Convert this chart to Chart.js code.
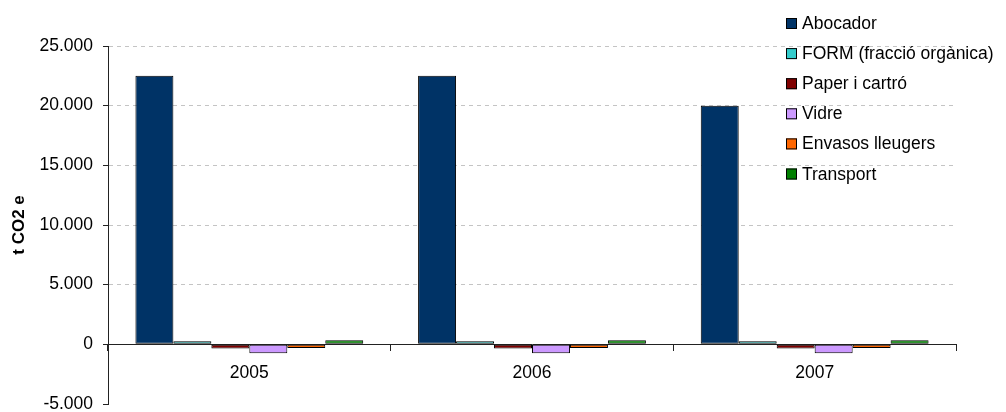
<!DOCTYPE html>
<html>
<head>
<meta charset="utf-8">
<script src="https://cdn.jsdelivr.net/npm/chart.js@4.4.1/dist/chart.umd.min.js"></script>
<style>
  html, body { margin: 0; padding: 0; background: #fff; }
  #wrap { position: relative; width: 1006px; height: 412px; }
</style>
</head>
<body>
<div id="wrap"><canvas id="chart" width="1006" height="412"></canvas></div>
<script>
// dades del gràfic
const years = ['2005', '2006', '2007'];
const seriesNames = ['Abocador', 'FORM (fracció orgànica)', 'Paper i cartró', 'Vidre', 'Envasos lleugers', 'Transport'];
const abocador = [22500, 22500, 20000];
const form = [250, 250, 250];
const paper = [-350, -350, -350];
const vidre = [-750, -750, -750];
const envasos = [-300, -300, -300];
const transport = [350, 350, 350];
const yTicks = [-5000, 0, 5000, 10000, 15000, 20000, 25000];

const colors = ['#003366', '#33CCCC', '#800000', '#CC99FF', '#FF6600', '#008000'];
const values = [abocador, form, paper, vidre, envasos, transport];

const FONT = "'Liberation Sans', Arial, sans-serif";

// format 25.000
function fmt(v) {
  const s = String(Math.abs(v)).replace(/\B(?=(\d{3})+(?!\d))/g, '.');
  return (v < 0 ? '-' : '') + s;
}

// llegenda dibuixada a sobre de l'àrea del gràfic
const legendPlugin = {
  id: 'sideLegend',
  afterDraw(chart) {
    const ctx = chart.ctx;
    ctx.save();
    ctx.font = '17.5px ' + FONT;
    ctx.textBaseline = 'alphabetic';
    ctx.textAlign = 'left';
    chart.data.datasets.forEach((ds, i) => {
      const base = 29 + i * 30.1;
      ctx.fillStyle = ds.backgroundColor;
      ctx.fillRect(786, base - 11, 11, 11);
      ctx.strokeStyle = '#000';
      ctx.lineWidth = 1;
      ctx.strokeRect(786.5, base - 10.5, 10, 10);
      ctx.fillStyle = '#000';
      ctx.fillText(ds.label, 802, base);
    });
    ctx.restore();
  }
};

new Chart(document.getElementById('chart'), {
  type: 'bar',
  data: {
    labels: years,
    datasets: seriesNames.map((name, i) => ({
      label: name,
      data: values[i],
      backgroundColor: colors[i],
      borderColor: '#000',
      borderWidth: 1,
      borderSkipped: false,
      categoryPercentage: 0.806,
      barPercentage: 1
    }))
  },
  options: {
    responsive: false,
    animation: false,
    layout: { padding: { left: 0, top: 46, right: 50, bottom: 8 } },
    plugins: {
      legend: { display: false },
      tooltip: { enabled: false }
    },
    scales: {
      x: {
        position: { y: 0 },
        grid: {
          offset: true,
          drawOnChartArea: false,
          tickLength: 6,
          tickColor: '#222'
        },
        border: { color: '#222', width: 1 },
        ticks: {
          color: '#000',
          padding: 12,
          font: { family: FONT, size: 17.5 }
        }
      },
      y: {
        min: -5000,
        max: 25000,
        afterBuildTicks: s => { s.ticks = yTicks.map(v => ({ value: v })); },
        afterFit: s => { s.width = 108; s.paddingTop = 0; s.paddingBottom = 0; },
        grid: {
          color: c => (c.tick && c.tick.value > 0) ? '#c4c4c4' : 'rgba(0,0,0,0)',
          tickColor: '#222',
          tickLength: 5,
          tickBorderDash: []
        },
        border: { color: '#222', width: 1, dash: [4, 4] },
        ticks: {
          color: '#000',
          padding: 10,
          font: { family: FONT, size: 17.5 },
          callback: v => fmt(v)
        },
        title: {
          display: true,
          text: 't CO2 e',
          color: '#000',
          font: { family: FONT, size: 17, weight: 'bold' },
          padding: { top: 9, bottom: 0 }
        }
      }
    }
  },
  plugins: [legendPlugin]
});
</script>
</body>
</html>
